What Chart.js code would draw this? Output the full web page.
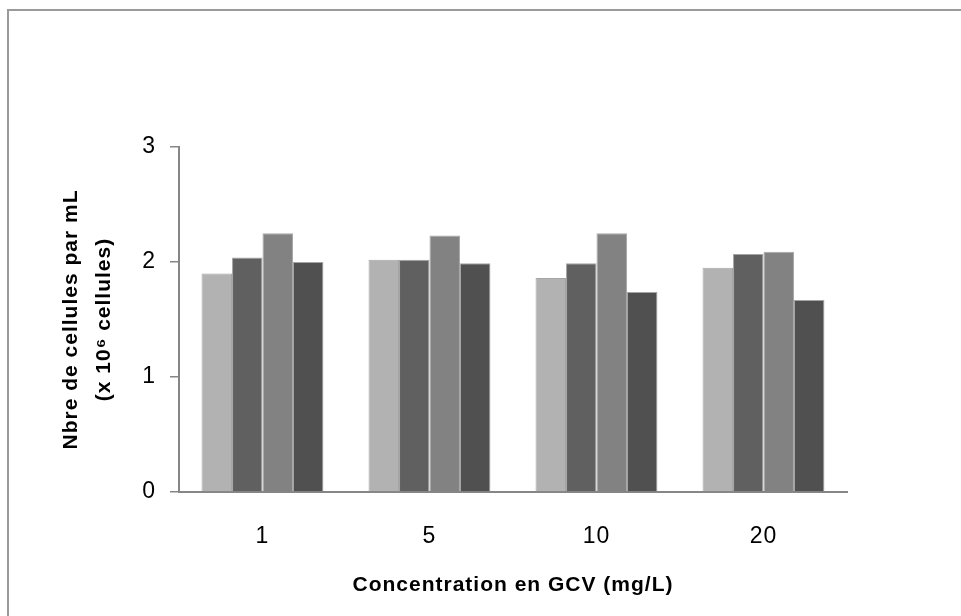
<!doctype html>
<html lang="fr">

<head>
    <meta charset="utf-8">
    <title>Nbre de cellules par mL</title>
    <script src="https://cdn.jsdelivr.net/npm/chart.js"></script>
    <style>
        html, body { margin: 0; padding: 0; background: #fff; }
        #wrap { width: 961px; height: 616px; position: relative; }
    </style>
</head>

<body>
    <div id="wrap">
        <canvas id="cellChart" width="961" height="616"></canvas>
    </div>

    <script>
        // Concentrations en GCV (mg/L)
        const concentrations = ['1', '5', '10', '20'];

        // Nbre de cellules par mL (x 10^6) - 4 series per concentration
        const serie1 = [1.90, 2.02, 1.86, 1.95];
        const serie2 = [2.04, 2.02, 1.99, 2.07];
        const serie3 = [2.25, 2.23, 2.25, 2.09];
        const serie4 = [2.00, 1.99, 1.74, 1.67];

        const serieColors = ['#b2b2b2', '#606060', '#828282', '#505050'];
        const yTicks = [0, 1, 2, 3];

        // outer frame of the figure + slightly spaced letters like the original
        const framePlugin = {
            id: 'frame',
            beforeDraw(chart) {
                const ctx = chart.ctx;
                ctx.save();
                ctx.strokeStyle = '#9a9a9a';
                ctx.lineWidth = 2;
                ctx.strokeRect(8, 10, chart.width + 20, chart.height + 20);
                ctx.restore();
                ctx.letterSpacing = '1px';
            }
        };

        const data = {
            labels: concentrations,
            datasets: [serie1, serie2, serie3, serie4].map((values, i) => ({
                label: 'Série ' + (i + 1),
                data: values,
                backgroundColor: serieColors[i],
                borderColor: '#a5a5a5',
                borderWidth: 1,
                borderSkipped: 'bottom'
            }))
        };

        const config = {
            type: 'bar',
            data: data,
            options: {
                responsive: false,
                animation: false,
                layout: {
                    padding: { top: 147, right: 114, left: 0, bottom: 0 }
                },
                plugins: {
                    legend: { display: false },
                    tooltip: { enabled: false }
                },
                datasets: {
                    bar: { categoryPercentage: 0.73, barPercentage: 1.0 }
                },
                scales: {
                    x: {
                        grid: { display: false },
                        border: { color: '#868686', width: 2 },
                        ticks: {
                            color: '#000',
                            padding: 23,
                            font: { family: 'Liberation Sans, Arial', size: 23 }
                        },
                        title: {
                            display: true,
                            text: 'Concentration en GCV (mg/L)',
                            color: '#000',
                            padding: { top: 0, bottom: 18 },
                            font: { family: 'Liberation Sans, Arial', size: 21, weight: 'bold' }
                        },
                        afterFit(scale) { scale.height = 124; }
                    },
                    y: {
                        min: 0,
                        max: 3,
                        afterBuildTicks(scale) { scale.ticks = yTicks.map(v => ({ value: v })); },
                        grid: {
                            drawOnChartArea: false,
                            drawTicks: true,
                            tickLength: 9,
                            color: '#868686',
                            lineWidth: 1.5
                        },
                        border: { color: '#868686', width: 2 },
                        ticks: {
                            color: '#000',
                            padding: 14,
                            font: { family: 'Liberation Sans, Arial', size: 23 }
                        },
                        title: {
                            display: true,
                            text: ['Nbre de cellules par mL', '(x 10⁶ cellules)'],
                            color: '#000',
                            padding: { top: 54, bottom: 0 },
                            font: { family: 'Liberation Sans, Arial', size: 21, weight: 'bold', lineHeight: 1.6 }
                        },
                        afterFit(scale) { scale.width = 179; }
                    }
                }
            },
            plugins: [framePlugin]
        };

        new Chart(document.getElementById('cellChart'), config);
    </script>
</body>

</html>
